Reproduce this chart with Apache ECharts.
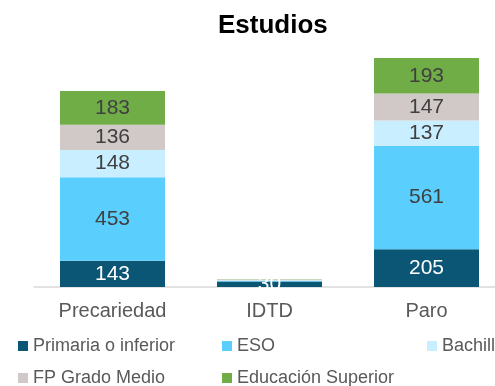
<!DOCTYPE html>
<html>
<head>
<meta charset="utf-8">
<script src="https://cdn.jsdelivr.net/npm/echarts@6/dist/echarts.min.js"></script>
<style>
  html, body { margin: 0; padding: 0; background: #fff; }
  #chart { width: 495px; height: 386px; }
</style>
</head>
<body>
<div id="chart"></div>
<script>
// Categories and stacked values per education level
var categories = ['Precariedad', 'IDTD', 'Paro'];
var primaria = [143, 30, 205];
var eso = [453, 2, 561];
var bachill = [148, 5, 137];
var fpMedio = [136, 4, 147];
var superior = [183, 1, 193];

var seriesNames = ['Primaria o inferior', 'ESO', 'Bachill', 'FP Grado Medio', 'Educación Superior'];
var seriesValues = [primaria, eso, bachill, fpMedio, superior];
var seriesColors = ['#0B5575', '#5ACFFD', '#C9EEFF', '#D1C9C7', '#70AD47'];
var labelColors = ['#ffffff', '#404040', '#404040', '#404040', '#404040'];

var chart = echarts.init(document.getElementById('chart'), null, { renderer: 'canvas' });

var series = seriesNames.map(function (name, i) {
  return {
    name: name,
    type: 'bar',
    stack: 'total',
    barWidth: 105,
    itemStyle: { color: seriesColors[i] },
    data: seriesValues[i].map(function (v, j) {
      // the tiny IDTD segments above the first one carry no label
      var showLabel = !(j === 1 && i > 0);
      return { value: v, label: { show: showLabel } };
    }),
    label: {
      show: true,
      position: 'inside',
      color: labelColors[i],
      fontFamily: 'Liberation Sans, Arial, sans-serif',
      fontSize: 21
    }
  };
});

// one legend block per entry so each sits in its own column
var legendSpots = [
  { left: 18, top: 337 },
  { left: 222, top: 337 },
  { left: 427, top: 337 },
  { left: 18, top: 369 },
  { left: 222, top: 369 }
];
var legends = seriesNames.map(function (name, i) {
  return {
    data: [name],
    left: legendSpots[i].left,
    top: legendSpots[i].top,
    orient: 'horizontal',
    icon: 'rect',
    itemWidth: 10,
    itemHeight: 10,
    itemGap: 0,
    padding: 0,
    selectedMode: false,
    textStyle: {
      fontFamily: 'Liberation Sans, Arial, sans-serif',
      fontSize: 18,
      color: '#595959',
      padding: [0, 0, 0, 0]
    }
  };
});

chart.setOption({
  animation: false,
  title: {
    text: 'Estudios',
    left: 213,
    top: 8,
    textStyle: {
      fontFamily: 'Liberation Sans, Arial, sans-serif',
      fontWeight: 'bold',
      fontSize: 26,
      color: '#000000'
    }
  },
  legend: legends,
  // plot area runs past the right edge of the page
  grid: { left: 34, width: 471, top: 29, bottom: 99, containLabel: false, outerBoundsMode: 'none' },
  xAxis: {
    type: 'category',
    data: categories,
    axisLine: { lineStyle: { color: '#D9D9D9', width: 1.5 } },
    axisTick: { show: false },
    axisLabel: {
      margin: 14,
      fontFamily: 'Liberation Sans, Arial, sans-serif',
      fontSize: 20,
      color: '#595959'
    }
  },
  yAxis: {
    type: 'value',
    min: 0,
    max: 1400,
    show: false,
    splitLine: { show: false }
  },
  series: series
});
</script>
</body>
</html>
